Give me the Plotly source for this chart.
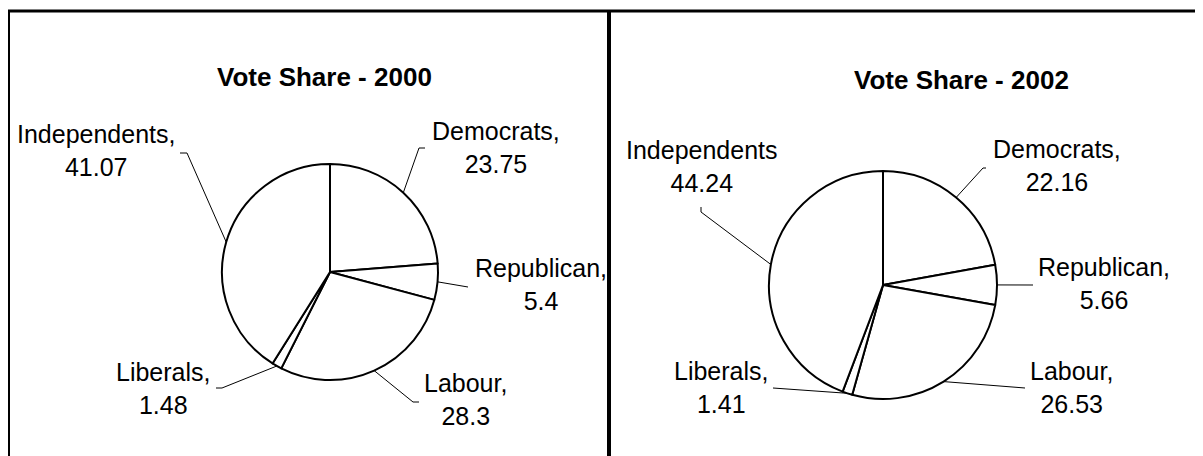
import plotly.graph_objects as go
import numpy as np

# ---------------- data ----------------
parties = ["Democrats", "Republican", "Labour", "Liberals", "Independents"]
share_2000 = [23.75, 5.4, 28.3, 1.48, 41.07]
share_2002 = [22.16, 5.66, 26.53, 1.41, 44.24]
label_sep_2000 = [",", ",", ",", ",", ","]
label_sep_2002 = [",", ",", ",", ",", ""]
titles = ["Vote Share - 2000", "Vote Share - 2002"]

# ---------------- layout (page pixels) ----------------
W, H = 1203, 456
OFF = 8  # default page margin of the html body
FONT = "Arial, Liberation Sans, sans-serif"
panels = [
    dict(values=share_2000, seps=label_sep_2000, title=titles[0],
         center=(330, 272), r=108, title_pos=(324, 77),
         label_pos=[(496, 147), (541, 284), (465, 399), (163, 388), (96, 150)],
         elbows=[[(419, 148), (425, 148)], [(468, 287)], [(413, 402), (419, 402)],
                 [(222, 388), (216, 388)], [(187, 153), (180, 153)]]),
    dict(values=share_2002, seps=label_sep_2002, title=titles[1],
         center=(883, 285), r=114, title_pos=(961, 80),
         label_pos=[(1057, 165), (1104, 283), (1071, 387), (721, 387), (702, 166)],
         elbows=[[(983, 168), (986, 168)], [(1033, 285)], [(1025, 388)],
                 [(773, 388)], [(701, 212), (701, 207)]]),
]

fig = go.Figure()
annotations = []

for p in panels:
    cx, cy = p["center"]
    r = p["r"]
    vals = np.array(p["values"], dtype=float)
    fx, fy = cx - OFF, cy - OFF
    fig.add_trace(go.Pie(
        values=vals, labels=parties, sort=False, direction="clockwise", rotation=0,
        marker=dict(colors=["white"] * len(vals), line=dict(color="black", width=2)),
        textinfo="none", hoverinfo="label+value", showlegend=False,
        domain=dict(x=[(fx - r) / W, (fx + r) / W], y=[1 - (fy + r) / H, 1 - (fy - r) / H]),
    ))
    # leader lines from slice mid-angle on the rim
    frac = vals / vals.sum()
    mids = (np.cumsum(frac) - frac / 2) * 2 * np.pi
    lx, ly = [], []
    for i, a in enumerate(mids):
        ex, ey = cx + r * np.sin(a), cy - r * np.cos(a)
        pts = [(ex, ey)] + p["elbows"][i]
        lx += [q[0] for q in pts] + [None]
        ly += [q[1] for q in pts] + [None]
        tx, ty = p["label_pos"][i]
        annotations.append(dict(
            x=tx, y=ty, xref="x", yref="y", showarrow=False,
            text=f"{parties[i]}{p['seps'][i]}<br>{vals[i]:g}",
            font=dict(family=FONT, size=25, color="black"),
            xanchor="center", yanchor="middle", align="center"))
    fig.add_trace(go.Scatter(x=lx, y=ly, mode="lines", line=dict(color="black", width=1),
                             hoverinfo="skip", showlegend=False))
    annotations.append(dict(
        x=p["title_pos"][0], y=p["title_pos"][1], xref="x", yref="y", showarrow=False,
        text=p["title"], font=dict(family=FONT, size=26, color="black", weight="bold"),
        xanchor="center", yanchor="middle"))

shapes = [
    dict(type="line", xref="x", yref="y", x0=7, x1=W + OFF, y0=11, y1=11, line=dict(color="black", width=3)),
    dict(type="line", xref="x", yref="y", x0=8.5, x1=8.5, y0=10, y1=H + OFF, line=dict(color="black", width=3)),
    dict(type="line", xref="x", yref="y", x0=609, x1=609, y0=10, y1=H + OFF, line=dict(color="black", width=4)),
]

fig.update_layout(
    width=W, height=H, margin=dict(l=0, r=0, t=0, b=0),
    paper_bgcolor="white", plot_bgcolor="white",
    xaxis=dict(range=[OFF, W + OFF], visible=False, fixedrange=True),
    yaxis=dict(range=[H + OFF, OFF], visible=False, fixedrange=True),
    annotations=annotations, shapes=shapes, showlegend=False,
)

fig.write_html("out.html")
